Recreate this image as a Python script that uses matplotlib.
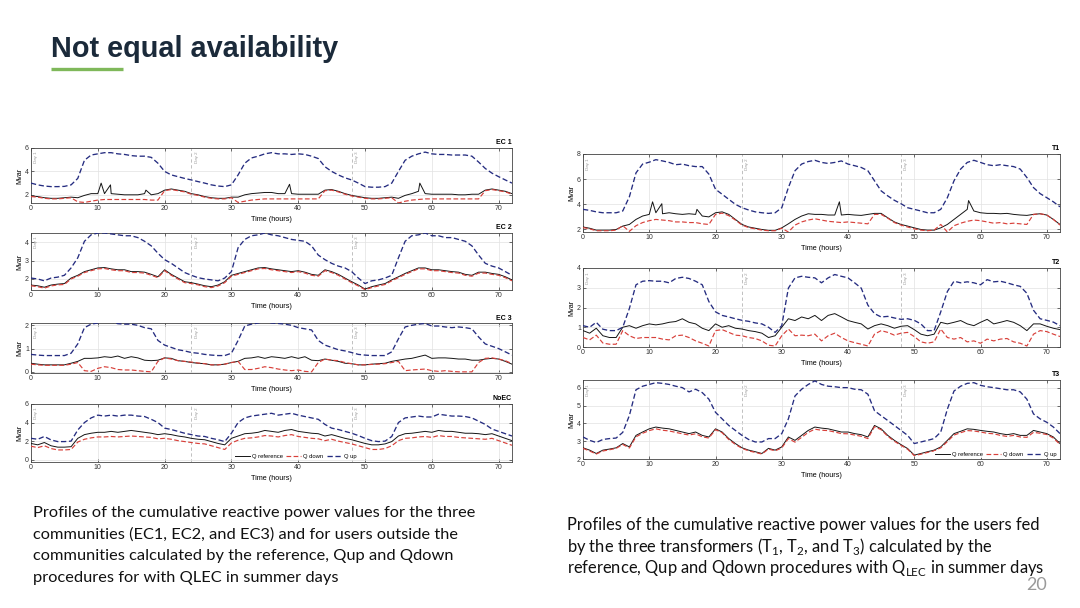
import numpy as np
import matplotlib.pyplot as plt
import matplotlib.transforms as mtransforms

plt.rcParams["font.family"] = ["Liberation Sans", "DejaVu Sans"]

hours = np.arange(0, 73)

# ---- EC 1 ----
ec1_up = [3.0, 2.85, 2.75, 2.7, 2.7, 2.72, 2.85, 3.4, 4.95, 5.4,
          5.5, 5.6, 5.6, 5.5, 5.45, 5.35, 5.3, 5.3, 5.2, 4.7,
          4.0, 3.7, 3.55, 3.4, 3.27, 3.13, 3.0, 2.85, 2.75, 2.7,
          2.85, 3.7, 4.7, 5.15, 5.3, 5.5, 5.6, 5.5, 5.5, 5.45,
          5.5, 5.45, 5.3, 5.1, 4.4, 4.0, 3.7, 3.45, 3.27, 3.0,
          2.7, 2.65, 2.65, 2.7, 3.0, 4.0, 4.95, 5.3, 5.5, 5.65,
          5.5, 5.45, 5.45, 5.4, 5.4, 5.4, 5.3, 4.8, 4.25, 3.85,
          3.55, 3.27, 3.0]
ec1_ref = [1.9, 1.85, 1.75, 1.7, 1.7, 1.75, 1.8, 1.75, 1.95, 2.1,
           2.1, 2.1, 2.1, 2.05, 2.0, 2.0, 2.0, 2.1, 2.0, 2.1,
           2.4, 2.5, 2.4, 2.3, 2.1, 2.0, 1.85, 1.75, 1.7, 1.7,
           1.8, 1.8, 2.0, 2.1, 2.15, 2.2, 2.2, 2.1, 2.1, 2.1,
           2.05, 2.05, 2.05, 2.05, 2.4, 2.45, 2.3, 2.1, 1.95, 1.85,
           1.75, 1.7, 1.7, 1.75, 1.8, 1.7, 1.95, 2.1, 2.3, 2.1,
           2.05, 2.05, 2.05, 2.05, 2.0, 2.0, 2.05, 2.05, 2.4, 2.5,
           2.4, 2.3, 2.1]
ec1_down = [1.85, 1.8, 1.7, 1.65, 1.65, 1.7, 1.75, 1.4, 1.35, 1.45,
            1.55, 1.6, 1.6, 1.6, 1.6, 1.6, 1.6, 1.6, 1.55, 1.55,
            2.35, 2.45, 2.35, 2.25, 2.05, 1.95, 1.8, 1.7, 1.65, 1.65,
            1.75, 1.35, 1.45, 1.55, 1.6, 1.65, 1.65, 1.65, 1.65, 1.65,
            1.65, 1.65, 1.65, 1.65, 2.35, 2.4, 2.25, 2.05, 1.9, 1.8,
            1.7, 1.65, 1.65, 1.7, 1.75, 1.3, 1.45, 1.55, 1.6, 1.65,
            1.65, 1.65, 1.65, 1.65, 1.65, 1.65, 1.65, 1.65, 2.35, 2.45,
            2.35, 2.25, 2.05]
ec1_spike_t = [10.5, 11.9, 17.2, 38.7, 58.2]
ec1_spike_v = [3.0, 2.85, 2.4, 2.9, 3.0]

# ---- EC 2 ----
ec2_up = [2.05, 2.0, 1.9, 2.05, 2.1, 2.2, 2.6, 3.15, 4.05, 4.4,
          4.5, 4.5, 4.45, 4.4, 4.35, 4.35, 4.25, 4.05, 3.8, 3.4,
          3.05, 2.85, 2.6, 2.35, 2.2, 2.07, 2.0, 1.95, 1.9, 2.05,
          2.4, 3.7, 4.15, 4.35, 4.4, 4.5, 4.4, 4.35, 4.25, 4.15,
          4.1, 4.05, 3.8, 3.3, 3.05, 2.85, 2.7, 2.6, 2.4, 2.05,
          1.75, 1.9, 1.95, 2.05, 2.2, 3.15, 4.05, 4.35, 4.4, 4.5,
          4.35, 4.35, 4.25, 4.25, 4.15, 4.05, 3.8, 3.3, 2.85, 2.7,
          2.6, 2.4, 2.2]
ec2_ref = [1.67, 1.63, 1.55, 1.67, 1.72, 1.75, 2.05, 2.2, 2.4, 2.5,
           2.6, 2.62, 2.55, 2.5, 2.5, 2.4, 2.4, 2.37, 2.25, 2.12,
           2.5, 2.25, 2.05, 1.85, 1.8, 1.72, 1.63, 1.58, 1.67, 1.85,
           2.2, 2.3, 2.4, 2.5, 2.6, 2.62, 2.55, 2.5, 2.45, 2.4,
           2.45, 2.37, 2.25, 2.2, 2.5, 2.4, 2.25, 2.05, 1.85, 1.67,
           1.45, 1.58, 1.67, 1.75, 1.95, 2.12, 2.3, 2.45, 2.6, 2.6,
           2.5, 2.5, 2.45, 2.4, 2.37, 2.25, 2.2, 2.37, 2.37, 2.3,
           2.25, 2.12, 1.95]
ec2_down = [1.63, 1.58, 1.5, 1.62, 1.68, 1.7, 2.0, 2.15, 2.35, 2.45,
            2.55, 2.57, 2.5, 2.45, 2.45, 2.35, 2.35, 2.32, 2.2, 2.07,
            2.45, 2.2, 2.0, 1.8, 1.75, 1.68, 1.58, 1.53, 1.62, 1.8,
            2.15, 2.25, 2.35, 2.45, 2.55, 2.57, 2.5, 2.45, 2.4, 2.35,
            2.4, 2.32, 2.2, 2.15, 2.45, 2.35, 2.2, 2.0, 1.8, 1.62,
            1.42, 1.53, 1.62, 1.7, 1.9, 2.07, 2.25, 2.4, 2.55, 2.55,
            2.45, 2.45, 2.4, 2.35, 2.32, 2.2, 2.15, 2.32, 2.32, 2.25,
            2.2, 2.07, 1.9]

# ---- EC 3 ----
ec3_up = [0.75, 0.72, 0.7, 0.7, 0.7, 0.7, 0.8, 1.2, 1.9, 2.05,
          2.1, 2.18, 2.15, 2.07, 2.05, 2.05, 2.0, 1.9, 1.85, 1.35,
          1.15, 1.05, 0.95, 0.9, 0.83, 0.8, 0.75, 0.72, 0.7, 0.7,
          0.8, 1.35, 1.97, 2.05, 2.1, 2.18, 2.1, 2.08, 2.05, 2.0,
          1.9, 1.85, 1.8, 1.35, 1.15, 1.05, 0.95, 0.9, 0.83, 0.75,
          0.72, 0.7, 0.7, 0.7, 0.86, 1.42, 1.93, 2.0, 2.05, 2.08,
          1.97, 1.97, 1.93, 1.9, 1.93, 1.9, 1.85, 1.5, 1.2, 1.1,
          1.0, 0.86, 0.72]
ec3_ref = [0.37, 0.33, 0.3, 0.3, 0.3, 0.3, 0.37, 0.45, 0.58, 0.58,
           0.6, 0.65, 0.62, 0.68, 0.58, 0.65, 0.6, 0.5, 0.48, 0.5,
           0.6, 0.58, 0.48, 0.45, 0.4, 0.37, 0.35, 0.3, 0.3, 0.33,
           0.4, 0.45, 0.58, 0.6, 0.65, 0.58, 0.65, 0.62, 0.58, 0.65,
           0.58, 0.65, 0.5, 0.48, 0.55, 0.5, 0.45, 0.37, 0.35, 0.3,
           0.3, 0.33, 0.35, 0.37, 0.45, 0.5, 0.55, 0.58, 0.65, 0.72,
           0.58, 0.6, 0.6, 0.58, 0.55, 0.55, 0.5, 0.5, 0.55, 0.58,
           0.55, 0.45, 0.33]
ec3_down = [0.33, 0.3, 0.28, 0.28, 0.28, 0.28, 0.33, 0.4, 0.05, 0.02,
            0.15, 0.22, 0.18, 0.1, 0.08, 0.08, 0.05, 0.02, 0.0, 0.45,
            0.6, 0.55, 0.48, 0.45, 0.42, 0.38, 0.35, 0.3, 0.3, 0.33,
            0.4, 0.45, 0.1, 0.1, 0.15, 0.22, 0.18, 0.12, 0.08, 0.05,
            0.08, 0.02, 0.0, 0.4, 0.55, 0.5, 0.48, 0.4, 0.35, 0.3,
            0.3, 0.32, 0.33, 0.35, 0.4, 0.45, 0.05, 0.08, 0.1, 0.12,
            0.05, 0.02, 0.05, 0.02, 0.0, 0.0, 0.0, 0.4, 0.58, 0.6,
            0.55, 0.48, 0.35]

# ---- NoEC ----
noec_up = [2.3, 2.2, 2.5, 2.13, 1.95, 1.95, 2.0, 3.2, 4.0, 4.5,
           4.8, 4.7, 4.8, 4.7, 4.8, 4.8, 4.7, 4.65, 4.35, 4.0,
           3.4, 3.25, 3.05, 2.85, 2.7, 2.55, 2.5, 2.3, 2.15, 1.95,
           2.85, 4.0, 4.5, 4.7, 4.8, 4.9, 5.0, 4.8, 4.9, 5.0,
           4.8, 4.65, 4.5, 4.35, 3.8, 3.4, 3.25, 3.05, 2.85, 2.6,
           2.3, 2.05, 1.95, 2.0, 2.5, 4.0, 4.5, 4.6, 4.7, 4.6,
           4.6, 4.9, 4.8, 4.7, 4.7, 4.65, 4.5, 4.15, 3.8, 3.3,
           3.05, 2.8, 2.55]
noec_ref = [1.75, 1.6, 1.85, 1.5, 1.35, 1.35, 1.4, 2.3, 2.7, 2.85,
            2.95, 2.95, 3.05, 2.95, 3.05, 3.15, 3.05, 2.95, 2.85, 2.7,
            2.8, 2.7, 2.55, 2.45, 2.3, 2.2, 2.15, 1.95, 1.75, 1.6,
            2.3, 2.55, 2.8, 2.85, 2.95, 3.15, 3.05, 2.95, 3.15, 3.25,
            3.05, 2.95, 2.85, 2.8, 2.55, 2.7, 2.5, 2.3, 2.15, 1.95,
            1.75, 1.6, 1.6, 1.7, 1.95, 2.55, 2.8, 2.85, 2.95, 3.05,
            2.95, 3.15, 3.05, 3.05, 2.95, 2.85, 2.85, 2.8, 2.7, 2.8,
            2.55, 2.3, 2.05]
noec_down = [1.45, 1.3, 1.5, 1.2, 1.05, 1.05, 1.1, 1.9, 2.2, 2.35,
             2.45, 2.45, 2.5, 2.45, 2.5, 2.55, 2.5, 2.45, 2.4, 2.25,
             2.3, 2.2, 2.05, 1.95, 1.85, 1.75, 1.7, 1.5, 1.3, 1.1,
             1.8, 2.1, 2.3, 2.35, 2.45, 2.6, 2.55, 2.45, 2.6, 2.7,
             2.5, 2.4, 2.3, 2.25, 2.05, 2.2, 2.0, 1.85, 1.7, 1.5,
             1.3, 1.1, 1.1, 1.2, 1.5, 2.05, 2.3, 2.35, 2.45, 2.5,
             2.4, 2.6, 2.5, 2.5, 2.4, 2.35, 2.3, 2.25, 2.2, 2.3,
             2.05, 1.8, 1.55]

# ---- T1 ----
t1_up = [3.6, 3.52, 3.4, 3.33, 3.33, 3.33, 3.47, 4.6, 6.5, 7.2,
         7.35, 7.55, 7.45, 7.33, 7.15, 7.2, 7.07, 7.0, 7.0, 6.4,
         5.2, 4.8, 4.4, 4.0, 3.73, 3.55, 3.4, 3.33, 3.28, 3.33,
         3.73, 5.33, 6.67, 7.2, 7.4, 7.5, 7.33, 7.25, 7.33, 7.45,
         7.2, 7.07, 6.93, 6.67, 5.87, 5.07, 4.67, 4.32, 4.05, 3.73,
         3.6, 3.47, 3.33, 3.33, 3.6, 4.53, 5.87, 6.8, 7.33, 7.5,
         7.33, 7.15, 7.07, 7.15, 7.07, 7.0, 6.8, 6.13, 5.33, 4.85,
         4.53, 4.2, 3.8]
t1_ref = [2.2, 2.1, 1.95, 1.95, 1.95, 2.0, 2.27, 2.4, 2.8, 3.07,
          3.2, 3.33, 3.25, 3.33, 3.25, 3.2, 3.25, 3.2, 3.07, 3.0,
          3.33, 3.4, 3.2, 2.8, 2.4, 2.2, 2.1, 2.0, 1.93, 1.93,
          2.13, 2.45, 2.8, 3.07, 3.25, 3.2, 3.2, 3.15, 3.15, 3.15,
          3.2, 3.15, 3.12, 3.2, 3.28, 3.28, 2.93, 2.6, 2.4, 2.27,
          2.13, 2.0, 1.95, 1.95, 2.13, 2.4, 2.8, 3.2, 3.6, 3.47,
          3.33, 3.28, 3.28, 3.25, 3.28, 3.2, 3.15, 3.12, 3.2, 3.25,
          3.15, 2.8, 2.4]
t1_down = [2.15, 2.05, 1.9, 1.9, 1.9, 1.95, 2.3, 1.85, 2.3, 2.55,
           2.7, 2.8, 2.75, 2.7, 2.6, 2.6, 2.55, 2.55, 2.45, 2.4,
           3.2, 3.3, 3.1, 2.75, 2.35, 2.15, 2.05, 1.95, 1.9, 1.9,
           2.1, 1.8, 2.35, 2.6, 2.75, 2.85, 2.75, 2.65, 2.6, 2.55,
           2.6, 2.55, 2.5, 2.45, 3.2, 3.2, 2.9, 2.55, 2.35, 2.2,
           2.05, 1.95, 1.9, 1.95, 2.4, 1.8, 2.3, 2.5, 2.65, 2.75,
           2.7, 2.6, 2.5, 2.55, 2.45, 2.5, 2.45, 2.4, 3.2, 3.25,
           3.15, 2.8, 2.35]
t1_spike_t = [10.5, 11.9, 17.2, 38.7, 58.2]
t1_spike_v = [4.2, 4.05, 3.6, 4.2, 4.3]

# ---- T2 ----
t2_up = [1.08, 1.0, 1.25, 0.9, 0.83, 0.83, 1.0, 1.95, 3.15, 3.33,
         3.36, 3.33, 3.33, 3.25, 3.47, 3.53, 3.47, 3.33, 3.15, 2.3,
         1.78, 1.6, 1.52, 1.43, 1.35, 1.3, 1.22, 1.17, 1.0, 0.74,
         1.08, 2.98, 3.5, 3.58, 3.53, 3.5, 3.25, 3.5, 3.67, 3.58,
         3.5, 3.25, 2.98, 2.12, 1.69, 1.52, 1.55, 1.47, 1.4, 1.43,
         1.35, 1.17, 0.83, 0.83, 1.78, 2.81, 3.33, 3.25, 3.3, 3.25,
         3.15, 3.41, 3.3, 3.33, 3.25, 3.15, 3.07, 2.72, 1.86, 1.43,
         1.35, 1.26, 1.08]
t2_ref = [0.83, 0.7, 0.95, 0.57, 0.48, 0.48, 1.0, 1.08, 0.95, 1.08,
          1.17, 1.12, 1.17, 1.25, 1.29, 1.43, 1.25, 1.17, 0.95, 0.83,
          1.17, 1.0, 1.08, 0.95, 0.91, 0.83, 0.78, 0.7, 0.48, 0.57,
          1.0, 1.43, 1.34, 1.52, 1.43, 1.6, 1.34, 1.6, 1.69, 1.52,
          1.34, 1.25, 1.17, 0.91, 1.08, 1.17, 1.08, 0.95, 1.05, 1.08,
          0.88, 0.65, 0.57, 0.65, 1.25, 1.17, 1.25, 1.34, 1.17, 1.08,
          1.25, 1.4, 1.17, 1.25, 1.34, 1.25, 1.08, 0.83, 1.17, 1.17,
          1.05, 0.95, 0.88]
t2_down = [0.48, 0.36, 0.6, 0.2, 0.14, 0.14, 0.83, 0.57, 0.43, 0.48,
           0.48, 0.48, 0.4, 0.36, 0.57, 0.6, 0.48, 0.31, 0.19, 0.05,
           0.83, 0.88, 0.74, 0.6, 0.57, 0.48, 0.43, 0.31, 0.09, 0.05,
           0.57, 0.91, 0.57, 0.6, 0.57, 0.65, 0.31, 0.57, 0.7, 0.48,
           0.31, 0.22, 0.14, 0.05, 0.65, 0.83, 0.74, 0.6, 0.7, 0.74,
           0.53, 0.26, 0.19, 0.26, 0.91, 0.48, 0.4, 0.48, 0.26, 0.31,
           0.19, 0.4, 0.31, 0.4, 0.43, 0.26, 0.19, 0.05, 0.65, 0.83,
           0.78, 0.65, 0.53]

# ---- T3 ----
t3_up = [3.24, 3.05, 2.93, 3.1, 3.15, 3.18, 3.5, 4.45, 5.9, 6.1,
         6.2, 6.3, 6.26, 6.2, 6.1, 6.02, 5.78, 5.93, 5.74, 5.37,
         4.63, 4.26, 3.89, 3.61, 3.33, 3.1, 2.96, 2.96, 3.15, 3.15,
         3.43, 4.26, 5.55, 5.93, 6.2, 6.4, 6.2, 6.1, 6.07, 6.02,
         6.02, 5.93, 5.9, 5.65, 4.72, 4.44, 4.17, 3.89, 3.61, 3.33,
         2.87, 2.96, 3.05, 3.15, 3.52, 4.81, 5.83, 6.1, 6.26, 6.3,
         6.15, 6.07, 6.02, 5.96, 5.9, 5.9, 5.78, 5.37, 4.54, 4.26,
         4.07, 3.8, 3.43]
t3_ref = [2.63, 2.5, 2.31, 2.5, 2.56, 2.63, 2.87, 2.68, 3.33, 3.52,
          3.7, 3.8, 3.74, 3.7, 3.61, 3.52, 3.43, 3.52, 3.33, 3.24,
          3.7, 3.52, 3.15, 2.87, 2.63, 2.5, 2.41, 2.31, 2.6, 2.5,
          2.68, 3.24, 3.05, 3.33, 3.61, 3.8, 3.74, 3.7, 3.61, 3.52,
          3.52, 3.43, 3.37, 3.24, 3.89, 3.7, 3.33, 3.05, 2.81, 2.59,
          2.22, 2.31, 2.41, 2.5, 2.68, 3.05, 3.43, 3.56, 3.7, 3.67,
          3.61, 3.56, 3.52, 3.43, 3.37, 3.43, 3.33, 3.33, 3.61, 3.52,
          3.43, 3.24, 2.87]
t3_down = [2.6, 2.45, 2.28, 2.45, 2.52, 2.6, 2.82, 2.62, 3.25, 3.45,
           3.6, 3.7, 3.62, 3.58, 3.5, 3.42, 3.35, 3.42, 3.25, 3.18,
           3.65, 3.48, 3.1, 2.82, 2.6, 2.46, 2.37, 2.28, 2.56, 2.46,
           2.62, 3.15, 2.95, 3.22, 3.5, 3.68, 3.62, 3.6, 3.52, 3.43,
           3.42, 3.35, 3.28, 3.15, 3.82, 3.65, 3.28, 3.0, 2.77, 2.55,
           2.19, 2.27, 2.37, 2.46, 2.63, 2.98, 3.35, 3.48, 3.6, 3.58,
           3.52, 3.45, 3.42, 3.33, 3.27, 3.33, 3.24, 3.22, 3.5, 3.45,
           3.38, 3.18, 2.82]

day_names = ["Day 1", "Day 2", "Day 3"]
day_starts = [0, 24, 48]
series_names = ["Q reference", "Q down", "Q up"]

C_REF = "#141414"
C_DOWN = "#d8403a"
C_UP = "#252c80"
W, H = 1080, 608


def box(l, t, r, b):
    return [l / W, 1 - b / H, (r - l) / W, (b - t) / H]


def panel(fig, rect, up, ref, down, ylim, yticks, name,
          spikes=None, legend=None):
    ax = fig.add_axes(rect)
    t_ref = hours.astype(float)
    v_ref = np.asarray(ref, float)
    if spikes is not None:
        t_ref = np.concatenate([t_ref, spikes[0]])
        v_ref = np.concatenate([v_ref, spikes[1]])
        o = np.argsort(t_ref, kind="stable")
        t_ref, v_ref = t_ref[o], v_ref[o]

    ax.plot(t_ref, v_ref, color=C_REF, lw=0.7, label=series_names[0], zorder=3)
    ax.plot(hours, down, color=C_DOWN, lw=0.85, ls=(0, (4, 2)),
            label=series_names[1], zorder=4)
    ax.plot(hours, up, color=C_UP, lw=0.95, ls=(0, (4, 2)),
            label=series_names[2], zorder=5)

    trans = mtransforms.blended_transform_factory(ax.transData, ax.transAxes)
    for d, nm in zip(day_starts, day_names):
        if d > 0:
            ax.axvline(d, color="#b5b5b5", lw=0.6, ls=(0, (4, 3)), zorder=1)
        ax.text(d + 0.5, 0.94, nm, rotation=90, transform=trans,
                fontsize=3.2, color="#9a9a9a", ha="left", va="top")

    ax.set_xlim(0, 72)
    ax.set_ylim(*ylim)
    ax.set_xticks(np.arange(0, 71, 10))
    ax.set_yticks(yticks)
    ax.grid(True, color="#e2e2e2", lw=0.5, zorder=0)
    ax.tick_params(direction="in", top=True, right=True, length=2.2,
                   width=0.5, labelsize=5, pad=1.5, colors="#333333")
    for s in ax.spines.values():
        s.set_linewidth(0.6)
        s.set_color("#444444")
    ax.set_xlabel("Time (hours)", fontsize=5.2, labelpad=2.5)
    ax.set_ylabel("Mvar", fontsize=5.2, labelpad=1)
    ax.text(1.0, 1.03, name, transform=ax.transAxes, ha="right", va="bottom",
            fontsize=5, fontweight="bold")
    if legend is not None:
        lg = ax.legend(loc=legend[0], bbox_to_anchor=legend[1], ncol=3,
                       fontsize=4.2, handlelength=2.6, handletextpad=0.3,
                       columnspacing=0.6, borderpad=0.15, frameon=True,
                       fancybox=False)
        lg.get_frame().set_edgecolor("none")
        lg.get_frame().set_facecolor("white")
    return ax


fig = plt.figure(figsize=(10.8, 6.08), dpi=100)
fig.patch.set_facecolor("white")

panel(fig, box(31, 148, 512, 203), ec1_up, ec1_ref, ec1_down,
      (1.3, 6), [2, 4, 6], "EC 1", spikes=(ec1_spike_t, ec1_spike_v))
panel(fig, box(31, 233, 512, 290), ec2_up, ec2_ref, ec2_down,
      (1.4, 4.5), [2, 3, 4], "EC 2")
panel(fig, box(31, 323, 512, 373), ec3_up, ec3_ref, ec3_down,
      (-0.05, 2.1), [0, 1, 2], "EC 3")
panel(fig, box(31, 404, 512, 462), noec_up, noec_ref, noec_down,
      (-0.25, 6), [0, 2, 4, 6], "NoEC",
      legend=("lower center", (0.55, -0.02)))

panel(fig, box(583, 154, 1060, 232), t1_up, t1_ref, t1_down,
      (1.8, 8), [2, 4, 6, 8], "T1", spikes=(t1_spike_t, t1_spike_v))
panel(fig, box(583, 268, 1060, 347), t2_up, t2_ref, t2_down,
      (0, 4), [0, 1, 2, 3, 4], "T2")
panel(fig, box(583, 380, 1060, 459), t3_up, t3_ref, t3_down,
      (2, 6.45), [2, 3, 4, 5, 6], "T3",
      legend=("lower right", (1.0, -0.02)))

# slide title and accent bar
fig.text(51 / W, 1 - 57 / H, "Not equal availability", fontsize=20.8,
         fontweight="bold", color="#1b2a3a", va="baseline", ha="left")
fig.add_artist(plt.Line2D([51 / W, 123 / W], [1 - 69 / H, 1 - 69 / H],
                          color="#7fb85a", lw=2.4, solid_capstyle="butt"))

cap_font = ["Lato", "DejaVu Sans"]
left_lines = [
    "Profiles of the cumulative reactive power values for the three",
    "communities (EC1, EC2, and EC3) and for users outside the",
    "communities calculated by the reference, Qup and Qdown",
    "procedures for with QLEC in summer days",
]
for i, line in enumerate(left_lines):
    fig.text(33 / W, 1 - (517 + 21.7 * i) / H, line, fontsize=11.8,
             family=cap_font, color="#111111", va="baseline", ha="left")

right_lines = [
    "Profiles of the cumulative reactive power values for the users fed",
    r"by the three transformers (T$_{\mathregular{1}}$, T$_{\mathregular{2}}$,"
    r" and T$_{\mathregular{3}}$) calculated by the",
    r"reference, Qup and Qdown procedures with Q$_{\mathregular{LEC}}$"
    " in summer days",
]
for i, line in enumerate(right_lines):
    fig.text(567 / W, 1 - (530 + 21.7 * i) / H, line, fontsize=11.9,
             family=cap_font, color="#111111", va="baseline", ha="left")

fig.text(1047 / W, 1 - 590 / H, "20", fontsize=13, family=cap_font,
         color="#9a9a9a", ha="right", va="baseline")

fig.savefig("out.png", dpi=100, facecolor="white")
